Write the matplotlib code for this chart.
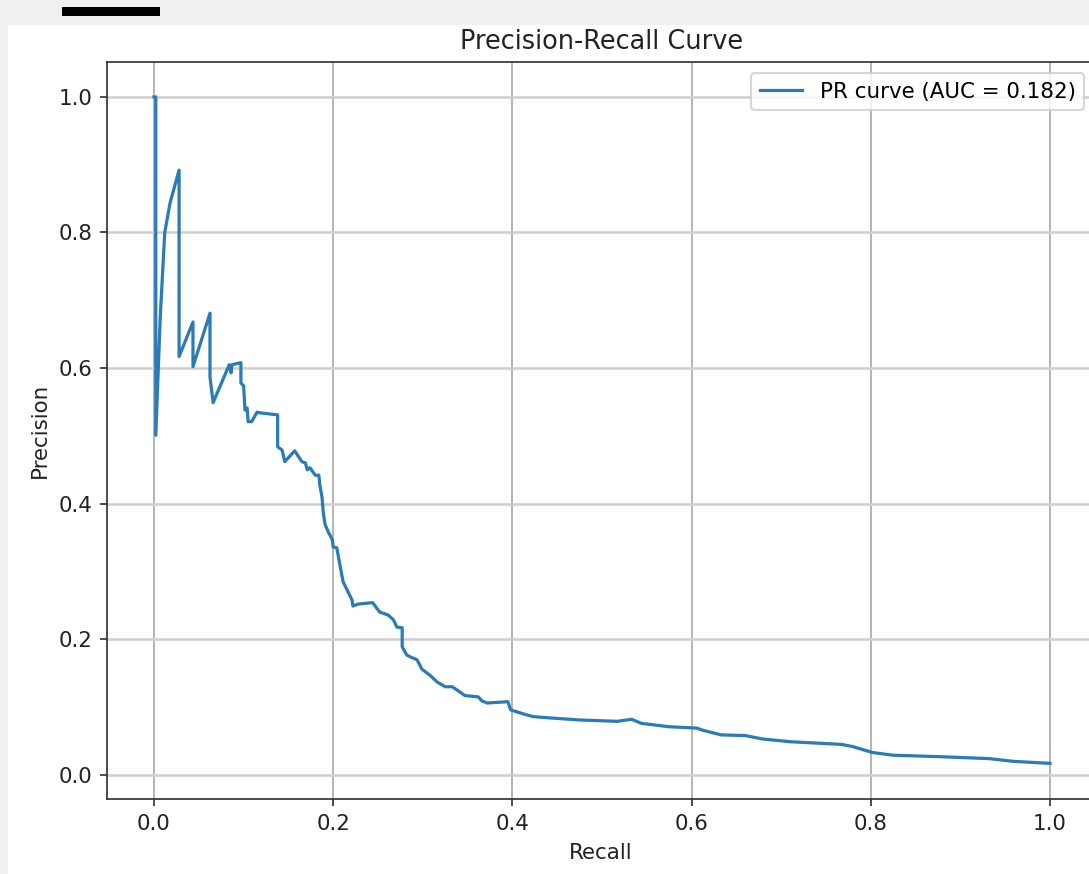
import matplotlib
matplotlib.use("Agg")
import matplotlib.pyplot as plt
from matplotlib.patches import Rectangle

# recall / precision points
recall = [0.000, 0.002, 0.002, 0.007, 0.012, 0.018, 0.028, 0.028, 0.0435, 0.0435,
          0.0625, 0.0625, 0.066, 0.084, 0.086, 0.087, 0.097, 0.097, 0.100, 0.1016,
          0.104, 0.105, 0.109, 0.115, 0.118, 0.138, 0.138, 0.143, 0.146, 0.157,
          0.165, 0.169, 0.171, 0.174, 0.180, 0.184, 0.185, 0.1875, 0.189, 0.191,
          0.195, 0.199, 0.200, 0.204, 0.211, 0.221, 0.222, 0.228, 0.244, 0.252,
          0.261, 0.267, 0.269, 0.271, 0.277, 0.277, 0.282, 0.286, 0.2935, 0.299,
          0.308, 0.316, 0.325, 0.333, 0.347, 0.362, 0.366, 0.372, 0.395, 0.398,
          0.412, 0.423, 0.442, 0.475, 0.517, 0.533, 0.544, 0.575, 0.606, 0.612,
          0.633, 0.660, 0.679, 0.709, 0.767, 0.779, 0.802, 0.825, 0.874, 0.932,
          0.959, 1.000]
precision = [1.000, 1.000, 0.501, 0.676, 0.800, 0.844, 0.892, 0.617, 0.668, 0.602,
             0.681, 0.587, 0.549, 0.605, 0.593, 0.605, 0.608, 0.578, 0.574, 0.538,
             0.541, 0.521, 0.521, 0.535, 0.534, 0.531, 0.484, 0.479, 0.462, 0.478,
             0.462, 0.460, 0.450, 0.453, 0.442, 0.442, 0.428, 0.410, 0.386, 0.369,
             0.357, 0.347, 0.336, 0.335, 0.285, 0.258, 0.249, 0.252, 0.254, 0.240,
             0.236, 0.229, 0.224, 0.218, 0.217, 0.189, 0.177, 0.174, 0.170, 0.156,
             0.147, 0.137, 0.130, 0.130, 0.117, 0.115, 0.109, 0.106, 0.108, 0.096,
             0.090, 0.086, 0.084, 0.081, 0.079, 0.082, 0.076, 0.071, 0.069, 0.066,
             0.059, 0.058, 0.053, 0.049, 0.045, 0.042, 0.033, 0.029, 0.027, 0.024,
             0.020, 0.017]
auc_label = "PR curve (AUC = 0.182)"

W, H, DPI = 1089, 874, 154
fig = plt.figure(figsize=(W / DPI, H / DPI), dpi=DPI)
fig.patch.set_facecolor("#f0f0f0")

# white page area and the black bar of the screenshot
fig.patches.append(Rectangle((8 / W, 0), 1, 1 - 25 / H, transform=fig.transFigure,
                             facecolor="white", edgecolor="none", zorder=-10))
fig.patches.append(Rectangle((62 / W, 1 - 15.5 / H), 98 / W, 8.5 / H,
                             transform=fig.transFigure, facecolor="black",
                             edgecolor="none", zorder=-9))

ax = fig.add_axes([107.4 / W, 1 - 799.3 / H, 987.4 / W, (799.3 - 62.3) / H])
ax.plot(recall, precision, color="#2a7bb8", label=auc_label)
ax.set_xlim(-0.052, 1.05)
ax.set_ylim(-0.036, 1.051)
ax.set_xlabel("Recall", color="#222222")
ax.set_ylabel("Precision", color="#222222")
ax.set_title("Precision-Recall Curve", color="#222222")
ax.tick_params(colors="#333333", labelcolor="#222222")
for s in ax.spines.values():
    s.set_color("#333333")
ax.legend(loc="upper right")
ax.grid(True, axis="x", color="#aaaaaa", linewidth=0.8)
ax.grid(True, axis="y", color="#cfcfcf", linewidth=1.2)

fig.savefig("out.png", dpi=DPI)
